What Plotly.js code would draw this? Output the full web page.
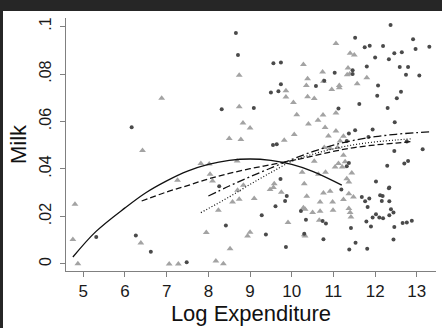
<!DOCTYPE html>
<html><head><meta charset="utf-8">
<script src="https://cdn.plot.ly/plotly-3.0.1.min.js"></script>
<style>
html,body{margin:0;padding:0;background:#262626;width:442px;height:328px;overflow:hidden}
#chart{position:absolute;left:3px;top:11px;width:439px;height:317px;background:#fff}
</style></head>
<body><div id="chart"></div>
<script>
// Gray triangles group
const triX = [6.88,8.74,10.28,9.86,9.86,10.04,10.38,10.35,10.74,10.76,10.38,10.54,10.96,11.14,11.14,11.06,11.40,11.50,11.35,11.33,11.39,11.57,11.80,8.74,6.42,8.83,9.00,8.50,8.78,9.82,10.06,10.12,10.40,10.63,10.75,10.80,10.88,11.06,11.06,11.24,11.16,11.24,11.28,11.21,11.12,10.54,10.78,10.92,11.10,11.04,10.81,10.64,10.25,11.44,11.32,11.37,11.37,11.48,11.24,11.37,11.40,11.42,10.98,10.99,10.76,10.92,10.68,10.68,10.50,10.66,10.28,10.32,10.36,10.30,9.75,9.58,9.56,9.48,9.10,8.74,8.58,8.24,9.91,10.30,10.32,9.00,8.94,7.95,8.52,8.18,8.36,4.80,4.75,4.87,6.38,7.06,7.28,7.26,7.82,8.04,8.10,8.69,8.84,8.70,8.02];
const triY = [0.0698,0.0795,0.0840,0.0729,0.0703,0.0680,0.0780,0.0752,0.0809,0.0770,0.0704,0.0697,0.0735,0.0752,0.0742,0.0929,0.0887,0.0880,0.0825,0.0797,0.0800,0.0759,0.0784,0.0662,0.0478,0.0594,0.0572,0.0528,0.0524,0.0521,0.0545,0.0628,0.0589,0.0605,0.0627,0.0575,0.0539,0.0560,0.0636,0.0538,0.0518,0.0458,0.0430,0.0408,0.0423,0.0432,0.0490,0.0486,0.0490,0.0408,0.0386,0.0378,0.0386,0.0383,0.0359,0.0345,0.0296,0.0282,0.0271,0.0233,0.0217,0.0198,0.0261,0.0226,0.0299,0.0306,0.0261,0.0222,0.0216,0.0184,0.0237,0.0230,0.0285,0.0338,0.0302,0.0338,0.0322,0.0313,0.0275,0.0272,0.0261,0.0226,0.0174,0.0123,0.0117,0.0133,0.0117,0.0132,0.0064,0.0012,0.0001,0.0251,0.0103,0.0001,0.0088,0.0,0.0,0.0352,0.0423,0.0378,0.0349,0.0434,0.0331,0.0310,0.0421];
// Dark dots group
const dotX = [8.66,8.71,9.56,9.74,9.74,9.50,9.68,10.58,10.78,11.03,11.52,11.46,11.46,11.80,11.75,11.87,12.19,12.00,12.07,12.05,12.37,12.33,12.46,12.64,12.59,12.79,12.74,13.06,12.62,12.52,12.91,12.97,13.30,11.62,8.32,9.09,11.12,12.30,6.16,9.55,9.64,11.37,11.52,11.32,11.84,11.94,12.47,12.46,12.76,13.14,12.29,12.70,12.79,12.34,12.02,11.32,11.37,11.19,11.68,11.76,11.86,12.12,12.18,12.34,12.16,12.33,11.82,12.38,12.44,12.34,12.02,11.94,12.10,12.19,11.79,11.90,12.46,12.66,12.76,12.88,11.42,11.53,11.38,11.81,12.44,10.76,9.86,10.22,10.74,10.82,10.34,9.88,9.84,9.73,9.61,9.28,8.42,9.38,7.48,5.31,6.26,6.62,8.26,10.30];
const dotY = [0.0973,0.0880,0.0845,0.0849,0.0757,0.0722,0.0727,0.0749,0.0772,0.0805,0.0953,0.0816,0.0800,0.0832,0.0913,0.0919,0.0918,0.0870,0.0752,0.0708,0.1006,0.0862,0.0887,0.0892,0.0830,0.0830,0.0797,0.0794,0.0725,0.0698,0.0946,0.0905,0.0915,0.0674,0.0652,0.0657,0.0655,0.0657,0.0576,0.0501,0.0504,0.0549,0.0563,0.0518,0.0535,0.0566,0.0597,0.0476,0.0516,0.0483,0.0413,0.0423,0.0434,0.0322,0.0347,0.0411,0.0425,0.0313,0.0282,0.0264,0.0275,0.0289,0.0286,0.0264,0.0265,0.0319,0.0240,0.0230,0.0216,0.0205,0.0209,0.0195,0.0195,0.0192,0.0179,0.0157,0.0155,0.0172,0.0174,0.0182,0.0151,0.0089,0.0061,0.0064,0.0103,0.0104,0.0071,0.0223,0.0181,0.0170,0.0186,0.0286,0.0265,0.0358,0.0243,0.0205,0.0162,0.0124,0.0007,0.0113,0.0120,0.0051,0.0327,0.0127];
// Fitted curves
const solidX = [4.75,5.3,6.0,6.5,7.0,7.5,8.0,8.5,9.0,9.5,10.0,10.5,11.2];
const solidY = [0.0029,0.0136,0.0236,0.0300,0.0350,0.0391,0.0419,0.0436,0.0442,0.0436,0.0419,0.0390,0.0332];
const dashX = [6.4,7.0,7.5,8.0,8.5,9.0,9.5,10.0,10.5,11.0,11.5,12.0,12.5,12.85];
const dashY = [0.0265,0.0303,0.0330,0.0358,0.0381,0.0401,0.0418,0.0435,0.0454,0.0474,0.0490,0.0501,0.0509,0.0515];
const dashdotX = [8.0,8.5,9.0,9.5,10.0,10.5,11.0,11.5,12.0,12.5,13.0,13.32];
const dashdotY = [0.0286,0.0328,0.0367,0.0404,0.0440,0.0473,0.0500,0.0521,0.0536,0.0546,0.0553,0.0556];
const dotLineX = [7.82,8.5,9.0,9.5,10.0,10.5,11.0,11.5,12.0,12.5,12.85];
const dotLineY = [0.0216,0.0282,0.0335,0.0385,0.0432,0.0462,0.0485,0.0502,0.0514,0.0522,0.0527];

const xTicks = [5,6,7,8,9,10,11,12,13];
const yTicks = [0,0.02,0.04,0.06,0.08,0.1];
const yTickText = ['0','.02','.04','.06','.08','.1'];

const lineCol = '#111111';
const traces = [
  {x:triX,y:triY,type:'scatter',mode:'markers',marker:{symbol:'triangle-up',size:6,color:'#a3a3a3'},hoverinfo:'skip'},
  {x:dotX,y:dotY,type:'scatter',mode:'markers',marker:{symbol:'circle',size:4,color:'#4a4a4a'},hoverinfo:'skip'},
  {x:solidX,y:solidY,type:'scatter',mode:'lines',line:{color:lineCol,width:1.3,shape:'spline'}},
  {x:dashX,y:dashY,type:'scatter',mode:'lines',line:{color:lineCol,width:1.3,shape:'spline',dash:'6px,3px'}},
  {x:dashdotX,y:dashdotY,type:'scatter',mode:'lines',line:{color:lineCol,width:1.3,shape:'spline',dash:'8px,3px,2px,3px'}},
  {x:dotLineX,y:dotLineY,type:'scatter',mode:'lines',line:{color:lineCol,width:1.2,shape:'spline',dash:'1px,2px'}}
];
const font = {family:'"Liberation Sans", Arial, sans-serif', color:'#1a1a1a'};
const layout = {
  width:439, height:317,
  margin:{l:63,r:6,t:7,b:57},
  paper_bgcolor:'#ffffff', plot_bgcolor:'#ffffff',
  showlegend:false,
  font:font,
  xaxis:{range:[4.585,13.46],tickvals:xTicks,ticks:'outside',ticklen:5,tickcolor:'#808080',
    showline:true,linecolor:'#808080',linewidth:1,showgrid:false,zeroline:false,
    tickfont:{size:17,family:font.family,color:'#1a1a1a'},
    title:{text:'Log Expenditure',font:{size:22,family:font.family,color:'#111'},standoff:0}},
  yaxis:{range:[-0.003,0.1036],tickvals:yTicks,ticktext:yTickText,tickangle:-90,ticks:'outside',ticklen:5,tickcolor:'#808080',
    showline:true,linecolor:'#808080',linewidth:1,showgrid:false,zeroline:false,
    tickfont:{size:16,family:font.family,color:'#1a1a1a'},ticklabelstandoff:3,
    title:{text:'Milk',font:{size:22,family:font.family,color:'#111'},standoff:3}}
};
Plotly.newPlot('chart',traces,layout,{staticPlot:true,displayModeBar:false});
</script></body></html>
